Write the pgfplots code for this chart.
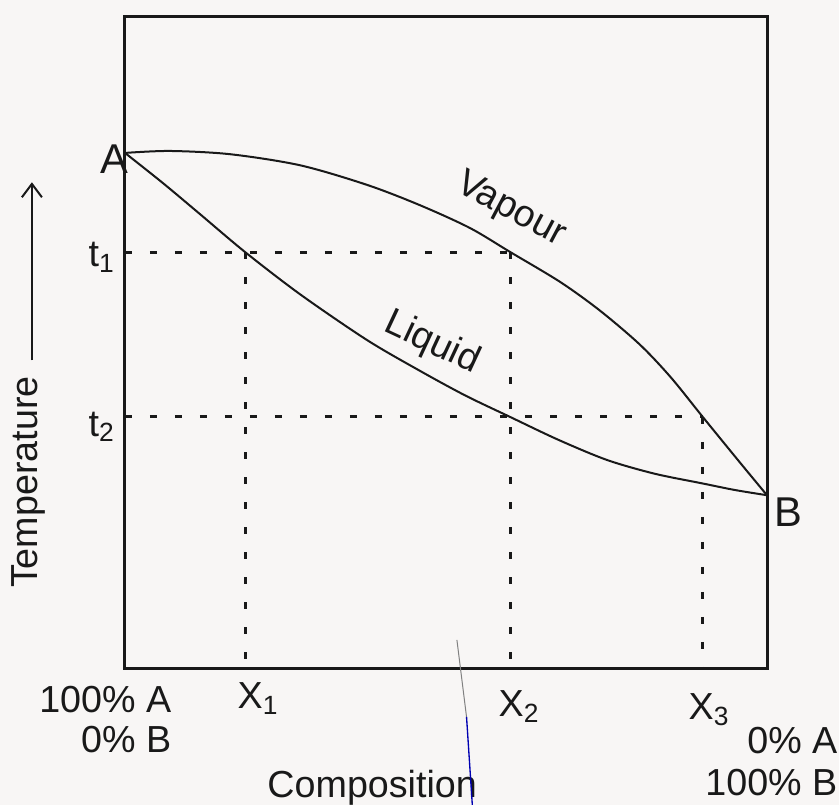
\documentclass[border=0pt]{standalone}
\usepackage{pgfplots}
\pgfplotsset{compat=1.18}
\usepackage{fontspec}
\setmainfont{Liberation Sans}
\usetikzlibrary{arrows.meta}
\definecolor{paper}{RGB}{248,246,245}
\definecolor{ink}{RGB}{25,25,25}

\begin{document}
\begin{tikzpicture}[font=\fontsize{11.3}{12}\selectfont, text=ink]
  % page background, 1px = 0.3pt
  \fill[paper] (-37.5pt,-41.1pt) rectangle (214.2pt,200.4pt);
  \begin{axis}[
    at={(0,0)}, anchor=south west,
    scale only axis,
    width=192.6pt, height=195.6pt,
    xmin=0, xmax=100, ymin=0, ymax=100,
    axis line style={ink, line width=0.9pt},
    ticks=none,
    clip=false,
    every axis plot/.style={ink},
    ]
    % vapour curve
    \addplot[line width=0.6pt, smooth] coordinates {
      (0,79) (7,79.3) (16.4,78.8) (27.3,77.1) (37.7,74.1) (45.9,71.0)
      (53.7,67.5) (60,63.8) (67.8,59.2) (74,54.8) (80.2,49.6) (85,44.6)
      (90,38.5) (95.8,31.5) (100,26.5)};
    % liquid curve
    \addplot[line width=0.6pt, smooth] coordinates {
      (0,79) (6,74.3) (11.7,69.6) (18.7,63.8) (27.3,57.3) (37.7,50.3)
      (45.9,45.6) (53,41.8) (60,38.5) (67.5,35.0) (75.1,31.9) (82.5,29.8)
      (90,28.3) (95,27.3) (100,26.5)};
    % tie lines
    \addplot[line width=0.9pt, dash pattern=on 2.1pt off 5.4pt] coordinates {(0,63.8) (60,63.8)};
    \addplot[line width=0.9pt, dash pattern=on 2.1pt off 5.4pt] coordinates {(0,38.5) (90,38.5)};
    \addplot[line width=0.9pt, dash pattern=on 2.1pt off 5.4pt] coordinates {(18.7,63.8) (18.7,0)};
    \addplot[line width=0.9pt, dash pattern=on 2.1pt off 5.4pt] coordinates {(60,63.8) (60,0)};
    \addplot[line width=0.9pt, dash pattern=on 2.1pt off 5.4pt] coordinates {(90,38.5) (90,0)};

    \node[font=\fontsize{12.5}{13}\selectfont] at (axis cs:-1.6,78) {A};
    \node[font=\fontsize{12.5}{13}\selectfont] at (axis cs:103.4,23.9) {B};
    \node[anchor=east, inner sep=0pt] at (axis cs:-1.4,63.0) {t\textsubscript{1}};
    \node[anchor=east, inner sep=0pt] at (axis cs:-1.4,37.0) {t\textsubscript{2}};
    \node[rotate=-28] at (axis cs:60.1,70.2) {Vapour};
    \node[rotate=-25] at (axis cs:47.8,49.8) {Liquid};
    \node[anchor=north west, inner sep=0pt] at (axis cs:17.45,-2.15) {X\textsubscript{1}};
    \node[anchor=north west, inner sep=0pt] at (axis cs:58.1,-3.4) {X\textsubscript{2}};
    \node[anchor=north west, inner sep=0pt] at (axis cs:87.7,-3.8) {X\textsubscript{3}};
    \node[anchor=north east, inner sep=0pt, align=right] at (axis cs:7.3,-2.76) {100\% A\\0\% B};
    \node[anchor=north east, inner sep=0pt, align=right,
          font=\fontsize{11.3}{12.6}\selectfont] at (axis cs:111.06,-9.05) {0\% A\\100\% B};
    \node[anchor=base] at (axis cs:38.5,-19.8) {Composition};
    \node[rotate=90] at (axis cs:-15.1,28.5) {Temperature};
    \draw[ink, line width=0.6pt, -{Straight Barb[length=4pt, width=6pt]}]
      (axis cs:-14.5,47.2) -- (axis cs:-14.5,74.5);
    % pen stroke on the scan
    \draw[gray, line width=0.3pt] (axis cs:51.7,4.3) -- (axis cs:53.2,-7.5);
    \draw[blue!70!black, line width=0.4pt] (axis cs:53.2,-7.5) -- (axis cs:54.1,-21);
  \end{axis}
  \pgfresetboundingbox
  \path[use as bounding box] (-37.5pt,-41.1pt) rectangle (214.2pt,200.4pt);
\end{tikzpicture}
\end{document}
